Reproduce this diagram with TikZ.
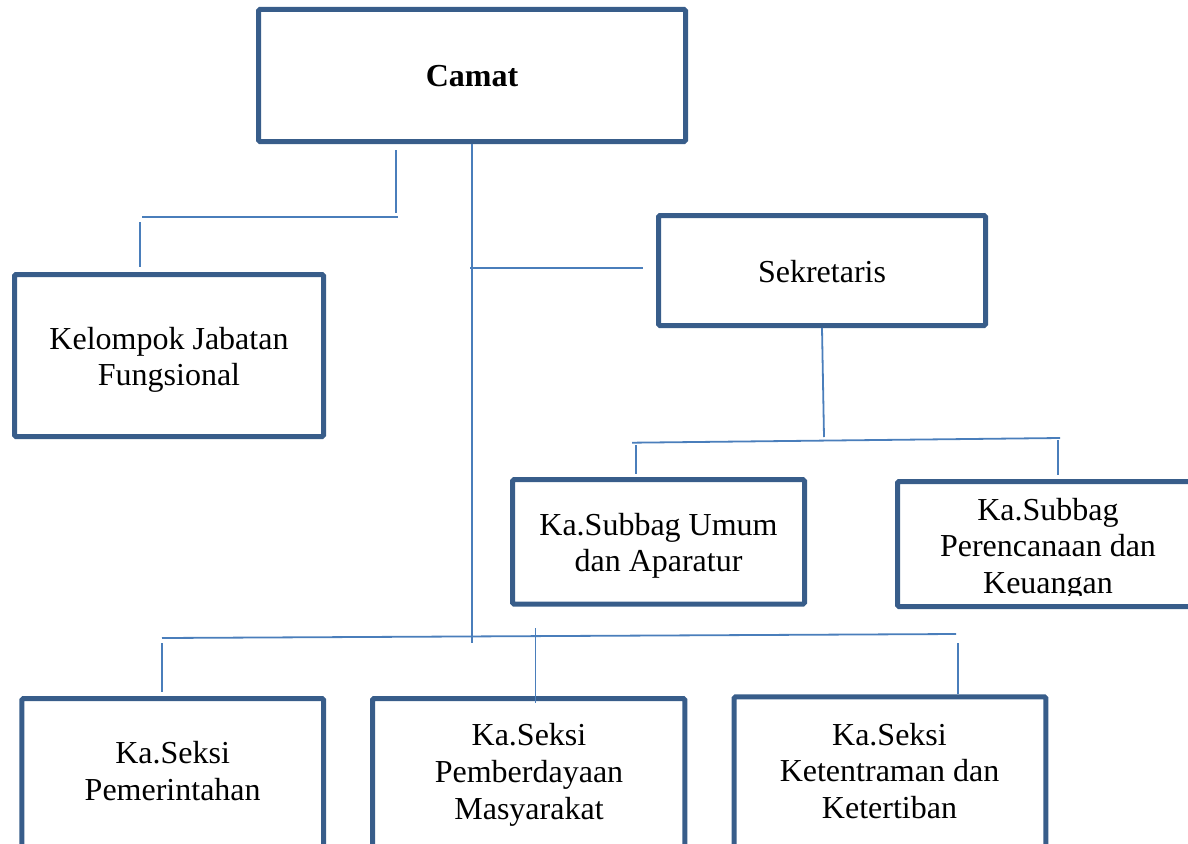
\documentclass[tikz,border=0pt]{standalone}
\usepackage{fontspec}
\setmainfont{Liberation Serif}
\definecolor{kotak}{HTML}{385D8A}
\definecolor{garis}{HTML}{4A7EBB}
\tikzset{
    jabatan/.style={draw=kotak, line width=5pt, rounded corners=1.5pt, inner sep=0pt},
    teks/.style={align=center, inner sep=0pt, font=\fontsize{32}{36.7}\selectfont},
    hubung/.style={draw=garis, line width=1.8pt}
}
\begin{document}
\begin{tikzpicture}[x=1pt,y=-1pt]
        \useasboundingbox (0,0) rectangle (1188,843);
        \clip (0,0) rectangle (1188,843);
        % kotak jabatan
        \node[jabatan, minimum width=427pt, minimum height=132pt] (camat) at (472,75.5) {};
        \node[jabatan, minimum width=309pt, minimum height=162pt] (fungsional) at (169,355.5) {};
        \node[jabatan, minimum width=327pt, minimum height=110pt] (sekretaris) at (822,270.5) {};
        \node[jabatan, minimum width=292pt, minimum height=124.5pt] (umum) at (658.5,541.8) {};
        \node[jabatan, minimum width=302.5pt, minimum height=125pt] (perencanaan) at (1048.75,544) {};
        \node[jabatan, minimum width=301.7pt, minimum height=151.5pt] (pemerintahan) at (172.65,774.25) {};
        \node[jabatan, minimum width=312.3pt, minimum height=151.5pt] (pemberdayaan) at (528.65,774.25) {};
        \node[jabatan, minimum width=311.6pt, minimum height=153.2pt] (ketentraman) at (890,773.4) {};
        % isi kotak
        \node[teks, font=\fontsize{32}{36.7}\selectfont\bfseries] (camat-teks) at (472,76.4) {Camat};
        \node[teks] (fungsional-teks) at (169,359.9) {Kelompok Jabatan\\Fungsional};
        \node[teks] (sekretaris-teks) at (822,272) {Sekretaris};
        \node[teks] (umum-teks) at (658.5,545.9) {Ka.Subbag Umum\\dan Aparatur};
        \begin{scope}
            \clip (897.5,481.5) rectangle (1188,595.7);
            \node[teks] (perencanaan-teks) at (1048,549.2) {Ka.Subbag\\Perencanaan dan\\Keuangan};
        \end{scope}
        \node[teks] (pemerintahan-teks) at (172.7,770.9) {Ka.Seksi\\Pemerintahan};
        \node[teks] (pemberdayaan-teks) at (529,774.9) {Ka.Seksi\\Pemberdayaan\\Masyarakat};
        \node[teks] (ketentraman-teks) at (889.5,771) {Ka.Seksi\\Ketentraman dan\\Ketertiban};
        % titik ujung garis
        \coordinate (c-bawah) at (472,643);
        \coordinate (f-atas) at (396,150);
        \coordinate (f-bawah) at (396,213);
        \coordinate (f-kanan) at (398,217);
        \coordinate (f-kiri) at (142,217);
        \coordinate (f-turun) at (140,222);
        \coordinate (f-ujung) at (140,267);
        \coordinate (s-kiri) at (470,267.7);
        \coordinate (s-kanan) at (643,267.7);
        \coordinate (s-bawah) at (824,437);
        \coordinate (sb-kiri) at (632,442.7);
        \coordinate (sb-kanan) at (1060,438);
        \coordinate (u-atas) at (635.7,445);
        \coordinate (u-bawah) at (635.7,474);
        \coordinate (p-atas) at (1058,440);
        \coordinate (p-bawah) at (1058,475);
        \coordinate (k-kiri) at (162,638);
        \coordinate (k-kanan) at (956,634);
        \coordinate (k1-atas) at (162,643);
        \coordinate (k1-bawah) at (162,692);
        \coordinate (k2-atas) at (535.5,628);
        \coordinate (k2-bawah) at (535.5,703);
        \coordinate (k3-atas) at (958.3,643);
        \coordinate (k3-bawah) at (958.3,694);
        % garis hubung
        \draw[hubung] (camat.south) -- (c-bawah);
        \draw[hubung] (f-atas) -- (f-bawah);
        \draw[hubung] (f-kiri) -- (f-kanan);
        \draw[hubung] (f-turun) -- (f-ujung);
        \draw[hubung] (s-kiri) -- (s-kanan);
        \draw[hubung] (sekretaris.south) -- (s-bawah);
        \draw[hubung] (sb-kiri) -- (sb-kanan);
        \draw[hubung] (u-atas) -- (u-bawah);
        \draw[hubung] (p-atas) -- (p-bawah);
        \draw[hubung] (k-kiri) -- (k-kanan);
        \draw[hubung] (k1-atas) -- (k1-bawah);
        \draw[hubung] (k2-atas) -- (k2-bawah);
        \draw[hubung] (k3-atas) -- (k3-bawah);
    \end{tikzpicture}
\end{document}
